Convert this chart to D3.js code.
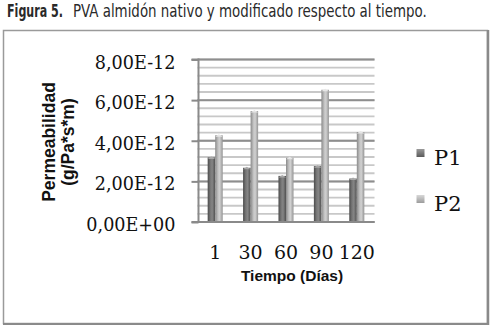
<!DOCTYPE html>
<html><head><meta charset="utf-8">
<script src="https://cdn.jsdelivr.net/npm/d3@7"></script>
<style>html,body{margin:0;padding:0;background:#fff;}svg{display:block;}</style>
</head><body>
<script>
const categories = ["1","30","60","90","120"];
const seriesNames = ["P1","P2"];
const p1 = [3.18e-12, 2.67e-12, 2.27e-12, 2.75e-12, 2.14e-12];
const p2 = [4.27e-12, 5.46e-12, 3.16e-12, 6.51e-12, 4.43e-12];
const yTicks = [0, 2e-12, 4e-12, 6e-12, 8e-12];
const yTickLabels = ["0,00E+00","2,00E-12","4,00E-12","6,00E-12","8,00E-12"];
const series = [p1, p2];

const W = 492, H = 328;
const svg = d3.select("body").append("svg").attr("width", W).attr("height", H);
svg.append("rect").attr("width", W).attr("height", H).attr("fill", "#fff");

// Title (two pieces, each squeezed horizontally to the reference width)
const titleFont = "'Liberation Sans Narrow','DejaVu Sans Condensed','Liberation Sans',sans-serif";
function squeezed(txt, x, target, bold) {
  const t = svg.append("text").attr("x", 0).attr("y", 0).attr("fill", "#2a2a2a")
    .style("font-family", titleFont).style("font-size", "17px")
    .attr("font-weight", bold ? "bold" : "normal").text(txt);
  const nat = t.node().getComputedTextLength();
  t.attr("transform", `translate(${x},17) scale(${target / nat},1)`);
}
squeezed("Figura 5.", 7, 56, true);
squeezed("PVA almidón nativo y modificado respecto al tiempo.", 73, 354, false);

// Chart border
svg.append("rect").attr("x", 3.5).attr("y", 30.5).attr("width", 484).attr("height", 293)
  .attr("fill", "none").attr("stroke", "#9a9a9a").attr("stroke-width", 1.5);
svg.append("line").attr("x1", 488).attr("x2", 488).attr("y1", 30).attr("y2", 325)
  .attr("stroke", "#8a8a8a").attr("stroke-width", 2.5);
svg.append("line").attr("x1", 3).attr("x2", 489).attr("y1", 324).attr("y2", 324)
  .attr("stroke", "#8a8a8a").attr("stroke-width", 2);

const plot = {l: 197.5, r: 374.5, t: 59.5, b: 222};
const y = d3.scaleLinear().domain([0, 8e-12]).range([plot.b, plot.t]);
const x0 = d3.scaleBand().domain(categories).range([plot.l, plot.r]).paddingInner(0.575).paddingOuter(0.2875);
const x1 = d3.scaleBand().domain(seriesNames).range([0, x0.bandwidth()]).padding(0);

// Minor gridlines
const minor = d3.range(0, 8e-12 + 1e-15, 0.4e-12);
svg.append("g").selectAll("line").data(minor).join("line")
  .attr("x1", plot.l).attr("x2", plot.r)
  .attr("y1", d => y(d)).attr("y2", d => y(d))
  .attr("stroke", "#c8c8c8").attr("stroke-width", 1.8);
// Major gridlines
svg.append("g").selectAll("line").data(yTicks).join("line")
  .attr("x1", plot.l).attr("x2", plot.r)
  .attr("y1", d => y(d)).attr("y2", d => y(d))
  .attr("stroke", "#8e8e8e").attr("stroke-width", 2);

// Gradients
const defs = svg.append("defs");
const gradSpecs = [
  {id: "g0", stops: [["0%", "#4a4a4a"], ["35%", "#767676"], ["60%", "#858585"], ["100%", "#505050"]]},
  {id: "g1", stops: [["0%", "#8a8a8a"], ["40%", "#c4c4c4"], ["60%", "#d0d0d0"], ["100%", "#959595"]]}
];
gradSpecs.forEach(g => {
  const lg = defs.append("linearGradient").attr("id", g.id).attr("x1", "0%").attr("x2", "100%");
  g.stops.forEach(s => lg.append("stop").attr("offset", s[0]).attr("stop-color", s[1]));
});
const capCol = ["#a8a8a8", "#e6e6e6"];
const legCol = [["#5a5a5a","#9a9a9a"],["#9c9c9c","#d8d8d8"]];
gradSpecs.forEach((g, i) => {
  const lg = defs.append("linearGradient").attr("id", "lg" + i).attr("x1", "0%").attr("x2", "0%").attr("y1","0%").attr("y2","100%");
  lg.append("stop").attr("offset", "0%").attr("stop-color", legCol[i][1]);
  lg.append("stop").attr("offset", "100%").attr("stop-color", legCol[i][0]);
});

// Bars
const groups = svg.append("g").selectAll("g").data(categories).join("g")
  .attr("transform", c => `translate(${x0(c)},0)`);
groups.each(function(c, ci) {
  const g = d3.select(this);
  seriesNames.forEach((s, si) => {
    const v = series[si][ci];
    const bx = x1(s), bw = x1.bandwidth();
    g.append("rect").attr("x", bx).attr("y", y(v)).attr("width", bw).attr("height", plot.b - y(v))
      .attr("fill", `url(#g${si})`);
    g.append("path")
      .attr("d", `M${bx},${y(v)+1.5} L${bx+bw/2},${y(v)-1} L${bx+bw},${y(v)+1.5} Z`)
      .attr("fill", capCol[si]);
  });
});

// Y axis
const yAxis = svg.append("g").attr("transform", `translate(${plot.l + 1},0)`)
  .call(d3.axisLeft(y).tickValues(yTicks).tickFormat((d, i) => yTickLabels[i]).tickSize(7).tickPadding(16));
yAxis.select(".domain").attr("stroke", "#8a8a8a").attr("stroke-width", 2).attr("d", `M-7,${plot.t}H0V${plot.b}H-7`);
yAxis.selectAll(".tick line").attr("stroke", "#8a8a8a").attr("stroke-width", 2);
yAxis.selectAll(".tick text").attr("dy", null).attr("y", 8.5)
  .attr("fill", "#111").style("font-family", "'DejaVu Serif',serif").style("font-size", "17.6px");

// X axis
const xAxis = svg.append("g").attr("transform", `translate(0,${plot.b})`)
  .call(d3.axisBottom(x0).tickSize(0));
xAxis.select(".domain").attr("stroke", "#8a8a8a").attr("stroke-width", 2).attr("d", `M${plot.l},0H${plot.r}`);
xAxis.selectAll(".tick text").attr("dy", null).attr("y", 36.5)
  .attr("fill", "#111").style("font-family", "'DejaVu Serif',serif").style("font-size", "19px");

// Axis titles
const sansB = "'Liberation Sans',Arial,sans-serif";
svg.append("text").attr("x", 292).attr("y", 281).attr("text-anchor", "middle")
  .attr("font-weight", "bold").style("font-family", sansB).style("font-size", "15.5px").attr("fill", "#111")
  .text("Tiempo (Días)");
const yt = svg.append("text").attr("transform", "translate(55,142) rotate(-90)").attr("text-anchor", "middle")
  .attr("font-weight", "bold").style("font-family", sansB).style("font-size", "17.5px").attr("fill", "#111");
yt.append("tspan").attr("x", 0).attr("y", 0).text("Permeabilidad");
yt.append("tspan").attr("x", 0).attr("y", 19).text("(g/Pa*s*m)");

// Legend
const leg = svg.append("g").selectAll("g").data(seriesNames).join("g")
  .attr("transform", (d, i) => `translate(416.5,${149 + i * 46})`);
leg.append("rect").attr("width", 8).attr("height", 8).attr("fill", (d, i) => `url(#lg${i})`);
leg.append("text").attr("x", 17.5).attr("y", 16).text(d => d)
  .attr("fill", "#111").style("font-family", "'DejaVu Serif',serif").style("font-size", "21px");
</script>
</body></html>
